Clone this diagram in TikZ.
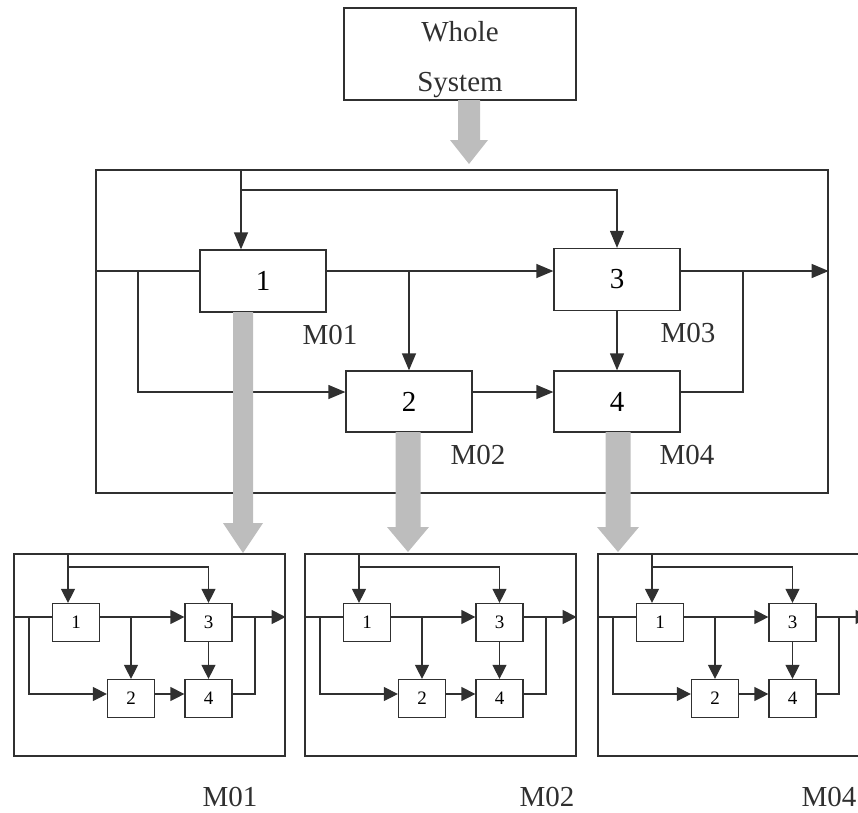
\documentclass[tikz,border=0pt]{standalone}
\usepackage{fontspec}
\setmainfont{Liberation Serif}
\usetikzlibrary{arrows.meta,calc}
\definecolor{ink}{HTML}{303030}
\definecolor{shade}{HTML}{BDBDBD}
\tikzset{
  x=1pt,y=-1pt,
  bar/.style={draw=ink,line width=1.3pt},
  ar/.style={bar,-{Triangle[length=17pt,width=14pt]}},
  sar/.style={bar,line width=1.25pt,-{Triangle[length=14pt,width=14pt]}},
  bigbox/.style={draw=ink,line width=1.3pt,minimum width=126pt,minimum height=62pt,inner sep=0pt,font=\fontsize{29}{32}\selectfont},
  sbox/.style={draw=ink,line width=1.25pt,minimum width=47pt,minimum height=38pt,inner sep=0pt,font=\fontsize{19}{21}\selectfont},
  frame/.style={draw=ink,line width=1.3pt,inner sep=0pt},
  lab/.style={inner sep=0pt,font=\fontsize{29}{32}\selectfont,text=ink},
  garrow/.style={fill=shade,draw=none},
  subsys/.pic={
    \node[frame,line width=1.2pt,minimum width=271pt,minimum height=202pt] (-F) at (135.5,101) {};
    \node[sbox] (-b1) at (62,68.5) {1};
    \node[sbox] (-b3) at (194.5,68.5) {3};
    \node[sbox] (-b2) at (117,144.5) {2};
    \node[sbox] (-b4) at (194.5,144.5) {4};
    \coordinate (-r1) at (0,63);
    \coordinate (-r2) at (0,140);
    \coordinate (-j1) at (54,13);
    \coordinate (-jl) at (15,0);
    \coordinate (-jr) at (241,0);
    \draw[sar] (-j1 |- -F.north) -- (-j1 |- -b1.north);
    \draw[sar] (-j1) -| (-b3.north);
    \draw[bar,line width=1.25pt] (-F.west |- -r1) -- (-b1.west |- -r1);
    \draw[sar] (-jl |- -r1) |- (-b2.west |- -r2);
    \draw[sar] (-b1.east |- -r1) -- (-b3.west |- -r1);
    \draw[sar] (-b2.north |- -r1) -- (-b2.north);
    \draw[sar] (-b3.east |- -r1) -- (-F.east |- -r1);
    \draw[bar,line width=1.25pt] (-b4.east |- -r2) -| (-jr |- -r1);
    \draw[sar] (-b3.south) -- (-b4.north);
    \draw[sar] (-b2.east |- -r2) -- (-b4.west |- -r2);
  }
}
\newcommand{\blockarrow}[6]{%
  \fill[garrow] ({#1-#5/2},#2) -- ({#1+#5/2},#2) -- ({#1+#5/2},#3) -- ({#1+#6/2},#3)
    -- (#1,#4) -- ({#1-#6/2},#3) -- ({#1-#5/2},#3) -- cycle;}
\begin{document}
\begin{tikzpicture}
\useasboundingbox (0,0) rectangle (858,812);
\clip (0,0) rectangle (858,812);

% whole system
\node[frame,minimum width=232pt,minimum height=92pt] (ws) at (460,54) {};
\node[lab,align=center,font=\fontsize{29}{50}\selectfont] (wst) at (460,60) {Whole\\System};

% main frame
\node[frame,minimum width=732pt,minimum height=323pt] (F) at (462,331.5) {};
\node[bigbox] (b1) at (263,281) {1};
\node[bigbox,minimum height=61pt] (b2) at (409,401.5) {2};
\node[bigbox] (b3) at (617,279.5) {3};
\node[bigbox,minimum height=61pt] (b4) at (617,401.5) {4};

\coordinate (r1) at (0,271);
\coordinate (r2) at (0,392);
\coordinate (j1) at (241,190);
\coordinate (jl) at (138,0);
\coordinate (jr) at (743,0);

\draw[ar] (j1 |- F.north) -- (j1 |- b1.north);
\draw[ar] (j1) -| (b3.north);
\draw[bar] (F.west |- r1) -- (b1.west |- r1);
\draw[ar] (jl |- r1) |- (b2.west |- r2);
\draw[ar] (b1.east |- r1) -- (b3.west |- r1);
\draw[ar] (b2.north |- r1) -- (b2.north);
\draw[ar] (b3.east |- r1) -- (F.east |- r1);
\draw[bar] (b4.east |- r2) -| (jr |- r1);
\draw[ar] (b3.south) -- (b4.north);
\draw[ar] (b2.east |- r2) -- (b4.west |- r2);

\node[lab] (m01) at (330,335) {M01};
\node[lab] (m03) at (688,333) {M03};
\node[lab] (m02) at (478,455) {M02};
\node[lab] (m04) at (687,455) {M04};

% sub systems
\pic (P1) at (14,554) {subsys};
\pic (P2) at (305,554) {subsys};
\pic (P3) at (598,554) {subsys};

\node[lab] (s1) at (230,797) {M01};
\node[lab] (s2) at (547,797) {M02};
\node[lab] (s4) at (829,797) {M04};

% block arrows
\blockarrow{469}{100}{140}{164}{22}{38}
\blockarrow{243}{312}{523}{553}{20}{40}
\blockarrow{408}{432}{527}{552}{25}{42}
\blockarrow{618}{432}{527}{552}{25}{42}
\end{tikzpicture}
\end{document}
